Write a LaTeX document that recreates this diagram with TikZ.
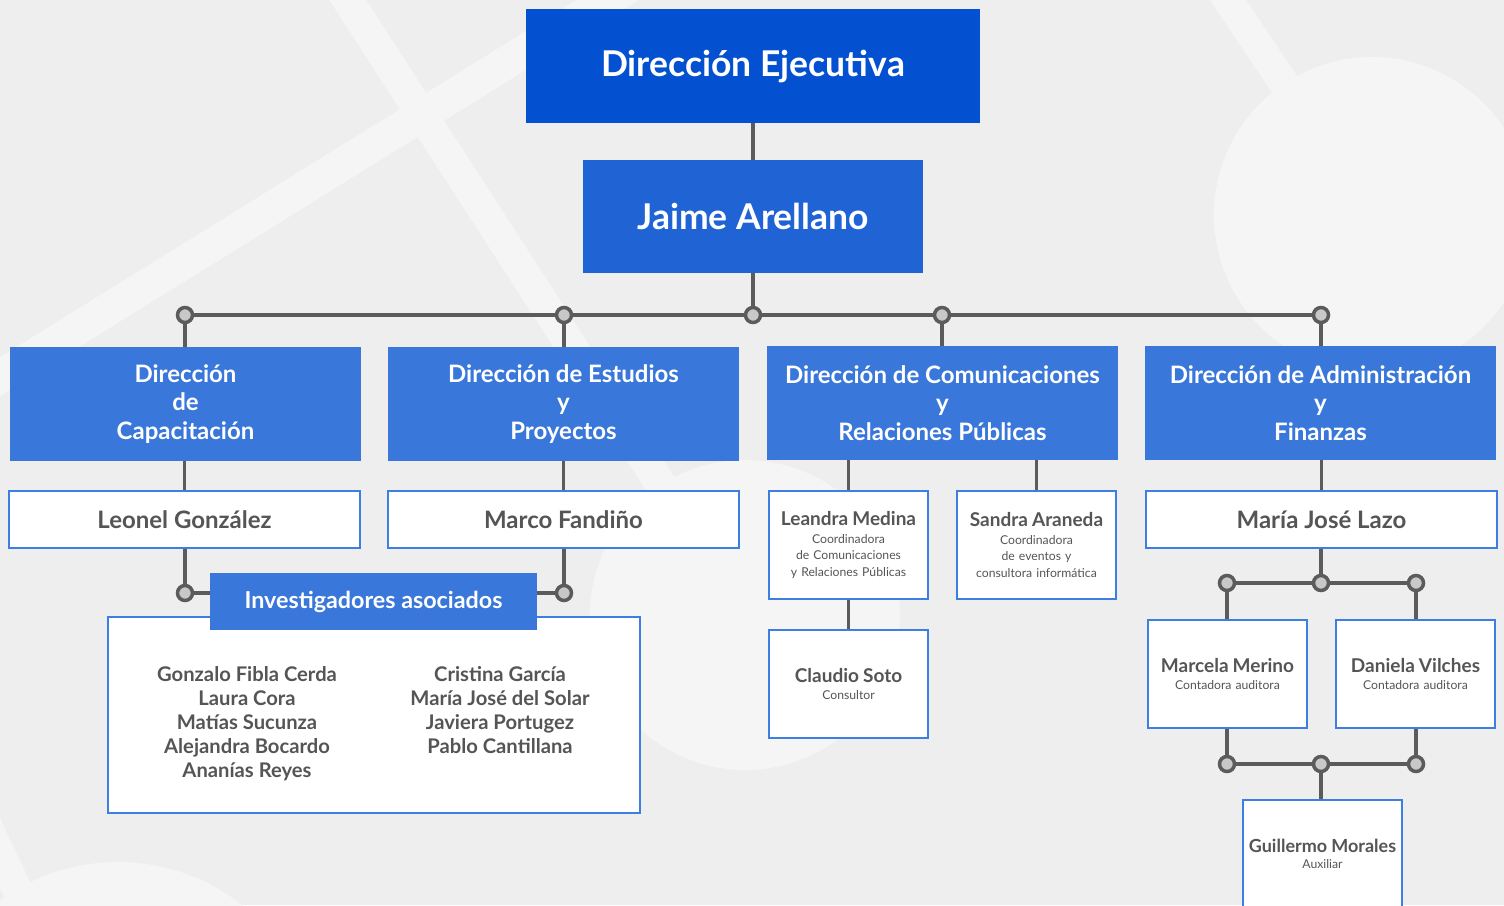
\documentclass[tikz,border=0pt]{standalone}
\usepackage{fontspec}
\setmainfont{Lato}
\definecolor{bgc}{HTML}{EEEEEE}
\definecolor{bandc}{HTML}{F5F5F5}
\definecolor{topblue}{HTML}{0350D0}
\definecolor{midblue}{HTML}{1F63D5}
\definecolor{lvlblue}{HTML}{3A77DA}
\definecolor{bordc}{HTML}{3C7EE2}
\definecolor{txtg}{HTML}{555555}
\definecolor{linec}{HTML}{5B5B5B}
\definecolor{dotc}{HTML}{C8C8C8}
\newcommand{\namefnt}{\fontsize{19}{22}\selectfont\bfseries}
\newcommand{\subfnt}{\fontsize{12.2}{16.5}\selectfont}
\begin{document}
\begin{tikzpicture}[x=1pt,y=-1pt,
  bluebox/.style={rectangle, inner sep=0, text=white, align=center},
  topbox/.style={bluebox, fill=topblue, font=\fontsize{35.5}{42}\selectfont\bfseries},
  midbox/.style={bluebox, fill=midblue, font=\fontsize{35.5}{42}\selectfont\bfseries},
  lvlbox/.style={bluebox, fill=lvlblue, minimum width=351, minimum height=114,
     font=\fontsize{24}{28.5}\selectfont\bfseries},
  widebox/.style={rectangle, inner sep=0, draw=bordc, line width=2, fill=white, text=txtg,
     minimum width=351, minimum height=57, font=\fontsize{24}{28}\selectfont\bfseries},
  smallbox/.style={rectangle, inner sep=0, draw=bordc, line width=2, fill=white, text=txtg,
     minimum width=159, minimum height=108, text width=157, align=center, font=\subfnt},
  conn/.style={draw=linec, line width=3.5},
  dot/.style={circle, draw=linec, fill=dotc, line width=3.5, minimum size=15, inner sep=0},
  namecol/.style={text=txtg, align=center, inner sep=0, anchor=north,
     font=\fontsize{20.2}{24}\selectfont\bfseries}
]
\useasboundingbox (0,0) rectangle (1504,905);
\fill[bgc] (0,0) rectangle (1504,905);
% background decoration
\begin{scope}[bandc]
  \draw[line width=31] (340,-12) -- (745,615);
  \fill (745,615) circle (155);
  \draw[line width=33] (-20,389) -- (630,-14);
  \draw[line width=30] (1220,-12) -- (1372,215);
  \fill (1372,215) circle (158);
  \draw[line width=30] (-30,790) -- (60,980);
  \fill (118,1062) circle (200);
\end{scope}

% top nodes
\node[topbox, minimum width=454, minimum height=114] (de) at (753,66) {Dirección Ejecutiva};
\node[midbox, minimum width=340, minimum height=113] (ja) at (753,216.5) {Jaime Arellano};

% junctions
\coordinate (j0) at (753,315);
\coordinate (j1) at (185,315);
\coordinate (j2) at (564,315);
\coordinate (j3) at (942,315);
\coordinate (j4) at (1321,315);

% level 2
\node[lvlbox] (d1) at (185.5,404) {Dirección\\de\\Capacitación};
\node[lvlbox] (d2) at (563.5,404) {Dirección de Estudios\\y\\Proyectos};
\node[lvlbox] (d3) at (942.5,403) {Dirección de Comunicaciones\\y\\Relaciones Públicas};
\node[lvlbox] (d4) at (1320.5,403) {Dirección de Administración\\y\\Finanzas};

% people
\node[widebox] (leo) at (184.5,519.5) {Leonel González};
\node[widebox] (mar) at (563.5,519.5) {Marco Fandiño};
\node[widebox] (laz) at (1321.5,519.5) {María José Lazo};
\node[smallbox] (lea) at (848.5,545) {{\namefnt Leandra Medina}\\[1pt]Coordinadora\\de Comunicaciones\\y Relaciones Públicas};
\node[smallbox] (san) at (1036.5,545) {{\namefnt Sandra Araneda}\\[1pt]Coordinadora\\de eventos y\\consultora informática};
\node[smallbox] (cla) at (848.5,684) {{\namefnt Claudio Soto}\\[0pt]Consultor};
\node[smallbox] (mme) at (1227.5,674) {{\namefnt Marcela Merino}\\[0pt]Contadora auditora};
\node[smallbox] (dvi) at (1415.5,674) {{\namefnt Daniela Vilches}\\[0pt]Contadora auditora};
\node[smallbox] (gmo) at (1322.5,854) {{\fontsize{18}{22}\selectfont\bfseries Guillermo Morales}\\[0pt]Auxiliar};

% investigators
\node[rectangle, draw=bordc, line width=2, fill=white, minimum width=532, minimum height=196, inner sep=0] (invbox) at (374,715) {};
\node[bluebox, fill=lvlblue, minimum width=327, minimum height=57, font=\fontsize{23.3}{27}\selectfont\bfseries] (invh) at (373.5,601.5) {Investigadores asociados};
\node[namecol] (invl) at (247,666) {Gonzalo Fibla Cerda\\Laura Cora\\Matías Sucunza\\Alejandra Bocardo\\Ananías Reyes};
\node[namecol] (invr) at (500,666) {Cristina García\\María José del Solar\\Javiera Portugez\\Pablo Cantillana};

\coordinate (jl) at (185,593);
\coordinate (jm) at (564,593);
\coordinate (ka) at (1227,583);
\coordinate (kb) at (1321,583);
\coordinate (kc) at (1416,583);
\coordinate (la) at (1227,764);
\coordinate (lb) at (1321,764);
\coordinate (lc) at (1416,764);

% connectors
\draw[conn] (de.south) -- (ja.north);
\draw[conn] (ja.south) -- (j0);
\draw[conn] (j1) -- (j4);
\draw[conn] (j1) -- (j1 |- d1.north);
\draw[conn] (j2) -- (j2 |- d2.north);
\draw[conn] (j3) -- (j3 |- d3.north);
\draw[conn] (j4) -- (j4 |- d4.north);
\draw[conn] (d1.south -| leo.north) -- (leo.north);
\draw[conn] (d2.south -| mar.north) -- (mar.north);
\draw[conn] (d4.south -| laz.north) -- (laz.north);
\draw[conn] (lea.north |- d3.south) -- (lea.north);
\draw[conn] (san.north |- d3.south) -- (san.north);
\draw[conn] (lea.south) -- (cla.north);
\draw[conn] (leo.south -| jl) -- (jl) -- (jl -| invh.west);
\draw[conn] (mar.south -| jm) -- (jm) -- (jm -| invh.east);
\draw[conn] (laz.south -| kb) -- (kb);
\draw[conn] (ka) -- (kc);
\draw[conn] (ka) -- (ka |- mme.north);
\draw[conn] (kc) -- (kc |- dvi.north);
\draw[conn] (ka |- mme.south) -- (la);
\draw[conn] (kc |- dvi.south) -- (lc);
\draw[conn] (la) -- (lc);
\draw[conn] (lb) -- (lb |- gmo.north);

% dots
\foreach \p in {j0,j1,j2,j3,j4,jl,jm,ka,kb,kc,la,lb,lc}
  \node[dot] at (\p) {};
\end{tikzpicture}
\end{document}
